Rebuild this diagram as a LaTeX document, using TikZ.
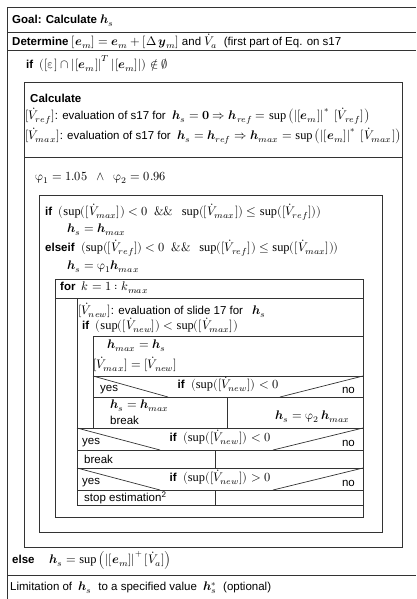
\documentclass[tikz,border=0pt]{standalone}
\usepackage{amsmath}
\usepackage{fontspec}
\usepackage{unicode-math}
\setmainfont{Liberation Sans}
\setmathfont{Latin Modern Math}[Scale=1.08]
\setmathrm{Liberation Serif}[Scale=1.08]
\usetikzlibrary{positioning, calc}

\newcommand{\bh}{\symbfit{h}}
\newcommand{\bem}{\symbfit{e}}
\newcommand{\bey}{\symbfit{y}}
\newcommand{\Vd}[1]{\dot{V}_{#1}}

\begin{document}
\begin{tikzpicture}[x=1pt, y=-1pt,
		ln/.style={draw=black!80, line width=0.7pt},
		txt/.style={anchor=west, inner sep=0pt, font=\fontsize{11.5}{14}\selectfont},
		rtxt/.style={anchor=east, inner sep=0pt, font=\fontsize{11.5}{14}\selectfont},
		ctxt/.style={inner sep=0pt, font=\fontsize{11.5}{14}\selectfont}]
	\useasboundingbox (0,0) rectangle (416,599);
	% outer frame and rows
	\draw[ln] (416,7) -- (7,7) -- (7,599);
	\draw[ln] (7,32) -- (416,32);
	\draw[ln] (7,50) -- (416,50);
	\draw[ln] (7,575) -- (416,575);
	\node (goal) [txt] at (12,21) {\textbf{Goal: Calculate} $\bh_s$};
	\node (det) [txt] at (12,41) {\textbf{Determine} $[\bem_m]=\bem_m+[\Delta\,\bey_m]$ and $\Vd{a}$ \ (first part of Eq. on s17};
	\node (if0) [txt] at (26,64) {\textbf{if} \ $([\upvarepsilon]\cap\left|[\bem_m]\right|^T\left|[\bem_m]\right|)\notin\emptyset$};
	% calculate box
	\draw[ln] (24,82) rectangle (402,547);
	\node (calc) [txt] at (30,98) {\textbf{Calculate}};
	\node (vref) [txt] at (25,116) {$[\Vd{ref}]$: evaluation of s17 for \ $\bh_s=\symbf{0}\Rightarrow\bh_{ref}=\sup\left(\left|[\bem_m]\right|^*\;[\Vd{ref}]\right)$};
	\node (vmax) [txt] at (25,136) {$[\Vd{max}]$: evaluation of s17 for \ $\bh_s=\bh_{ref}\Rightarrow\bh_{max}=\sup\left(\left|[\bem_m]\right|^*\;[\Vd{max}]\right)$};
	\draw[ln] (24,157) -- (402,157);
	\node (phi) [txt] at (35,178) {$\upvarphi_1=1.05\ \ \wedge\ \ \upvarphi_2=0.96$};
	% if box
	\draw[ln] (39,195) rectangle (382,532);
	\node (if1) [txt] at (45,212) {\textbf{if} \ $(\sup([\Vd{max}])<0\ \ \&\&\ \ \sup([\Vd{max}])\le\sup([\Vd{ref}]))$};
	\node (hs1) [txt] at (67,230) {$\bh_s=\bh_{max}$};
	\node (elif) [txt] at (45,248) {\textbf{elseif} \ $(\sup([\Vd{ref}])<0\ \ \&\&\ \ \sup([\Vd{ref}])\le\sup([\Vd{max}]))$};
	\node (hs2) [txt] at (67,267) {$\bh_s=\upvarphi_1\bh_{max}$};
	% for loop
	\draw[ln] (55,279) rectangle (363,517);
	\draw[ln] (55,298) -- (363,298);
	\draw[ln] (77,298) -- (77,505) -- (363,505);
	\node (for) [txt] at (60,288) {\textbf{for} \ $k=1:k_{max}$};
	\node (vnew) [txt] at (78,310) {$[\Vd{new}]$: evaluation of slide 17 for \ \ $\bh_s$};
	\node (if2) [txt] at (82,325) {\textbf{if} \ $(\sup([\Vd{new}])<\sup([\Vd{max}])$};
	% inner if
	\draw[ln] (363,336) -- (93,336) -- (93,428);
	\node (hmax) [txt] at (107,346) {$\bh_{max}=\bh_s$};
	\node (vset) [txt] at (93,364) {$[\Vd{max}]=[\Vd{new}]$};
	\draw[ln] (93,376) -- (363,376);
	\draw[ln] (93,376) -- (168,397);
	\draw[ln] (363,376) -- (280,397);
	\node (y1) [txt] at (100,390) {yes};
	\node (n1) [rtxt] at (355,390) {no};
	\node (c1) [ctxt] at (228,384) {\textbf{if} \ $(\sup([\Vd{new}])<0$};
	\draw[ln] (93,397) -- (363,397);
	\draw[ln] (227,397) -- (227,428);
	\node (hs3) [txt] at (110,406) {$\bh_s=\bh_{max}$};
	\node (brk1) [txt] at (110,420) {break};
	\node (hs4) [rtxt] at (350,417) {$\bh_s=\upvarphi_2\,\bh_{max}$};
	% second decision
	\draw[ln] (77,428) -- (363,428);
	\draw[ln] (77,428) -- (160,450);
	\draw[ln] (363,428) -- (273,450);
	\node (y2) [txt] at (82,443) {yes};
	\node (n2) [rtxt] at (355,443) {no};
	\node (c2) [ctxt] at (220,437) {\textbf{if} \ $(\sup([\Vd{new}])<0$};
	\draw[ln] (77,450) -- (363,450);
	\draw[ln] (215,450) -- (215,468);
	\node (brk2) [txt] at (84,459) {break};
	% third decision
	\draw[ln] (77,468) -- (363,468);
	\draw[ln] (77,468) -- (160,490);
	\draw[ln] (363,468) -- (273,490);
	\node (y3) [txt] at (82,483) {yes};
	\node (n3) [rtxt] at (355,483) {no};
	\node (c3) [ctxt] at (220,477) {\textbf{if} \ $(\sup([\Vd{new}])>0$};
	\draw[ln] (77,490) -- (363,490);
	\draw[ln] (215,490) -- (215,505);
	\node (stop) [txt] at (84,498) {stop estimation\textsuperscript{2}};
	% else and limitation
	\node (else) [txt] at (12,560) {\textbf{else} \quad $\bh_s=\sup\left(\left|[\bem_m]\right|^+[\Vd{a}]\right)$};
	\node (lim) [txt] at (10,588) {Limitation of \ $\bh_s$ \ to a specified value \ $\bh_s^*$ \ (optional)};
\end{tikzpicture}
\end{document}
